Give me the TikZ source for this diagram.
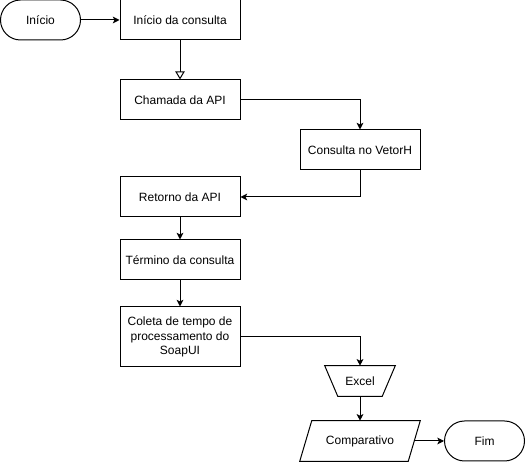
\documentclass[tikz,border=0pt]{standalone}
\usepackage{fontspec}
\setmainfont{Liberation Sans}
\usetikzlibrary{arrows.meta,calc}
\tikzset{
	etapa/.style={draw, line width=0.75pt, minimum width=90pt, minimum height=30pt, inner sep=2pt, align=center},
	terminal/.style={draw, line width=0.75pt, rounded corners=15pt, minimum width=60pt, minimum height=30pt},
	seta/.style={line width=0.75pt, -{Stealth[length=5pt, width=5pt, inset=1.2pt]}},
}
\begin{document}
\begin{tikzpicture}[x=0.75pt, y=-0.75pt, font=\fontsize{9}{11}\selectfont]
		\useasboundingbox (0, 0) rectangle (526, 463);
		%coluna da esquerda
		\node[terminal] (inicio) at (40.5, 20) {Início};
		\node[etapa] (consulta) at (180, 20) {Início da consulta};
		\node[etapa] (chamada) at (180, 100) {Chamada da API};
		\node[etapa] (vetorh) at (360, 150) {Consulta no VetorH};
		\node[etapa] (retorno) at (180, 197) {Retorno da API};
		\node[etapa] (termino) at (180, 260) {Término da consulta};
		\node[etapa, minimum height=45pt] (coleta) at (180, 337) {Coleta de tempo de\\processamento do\\SoapUI};
		%excel e comparativo
		\node[minimum width=52.5pt, minimum height=22.5pt] (excel) at (360, 381) {Excel};
		\draw[line width=0.75pt] (excel.north west) -- (excel.north east)
			-- ($(excel.south east)+(-13, 0)$) -- ($(excel.south west)+(13, 0)$) -- cycle;
		\node[minimum width=81pt, minimum height=30pt] (comparativo) at (360, 441) {Comparativo};
		\draw[line width=0.75pt] ($(comparativo.south west)+(-6, 0)$) -- ($(comparativo.north west)+(6, 0)$)
			-- ($(comparativo.north east)+(6, 0)$) -- ($(comparativo.south east)+(-6, 0)$) -- cycle;
		\node[terminal] (fim) at (484.5, 441) {Fim};
		%conectores
		\draw[seta] (inicio) -- (consulta);
		\draw[line width=0.75pt, -{Triangle[open, length=6pt, width=7pt, fill=white]}] (consulta) -- (chamada);
		\draw[seta] (chamada.east) -| (vetorh.north);
		\draw[seta] (vetorh.south) |- (retorno.east);
		\draw[seta] (retorno) -- (termino);
		\draw[seta] (termino) -- (coleta);
		\draw[seta] (coleta.east) -| (excel.north);
		\draw[seta] (excel.south) -- (comparativo.north);
		\draw[seta] (comparativo.east) -- (fim.west);
		\end{tikzpicture}
\end{document}
